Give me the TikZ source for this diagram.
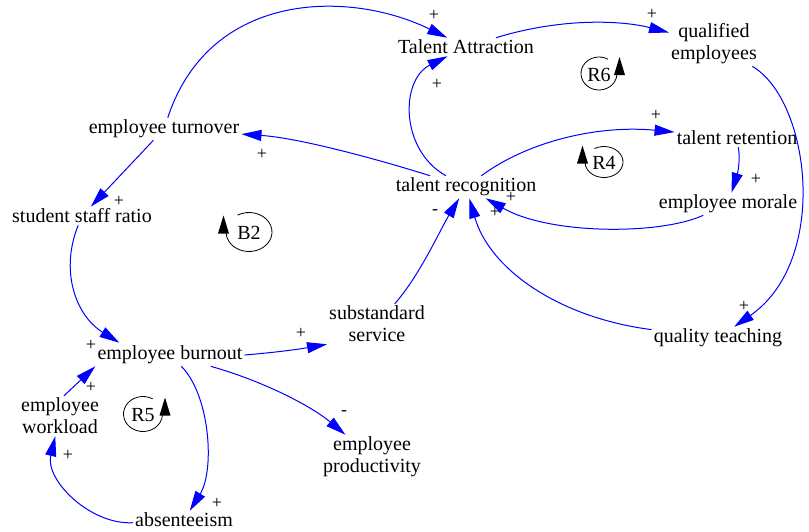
\documentclass[tikz,border=0pt]{standalone}
\usepackage{fontspec}
\setmainfont{Liberation Serif}
\usetikzlibrary{arrows.meta}
\def\lrx{19}
\def\lry{17}
\tikzset{
  loop rx/.store in=\lrx,
  loop ry/.store in=\lry,
  looptext/.style={font=\fontsize{20}{22}\selectfont, inner sep=0pt},
  loopccw/.pic={
    \draw[line width=0.8pt] ({\lrx*cos(60)},{\lry*sin(60)}) arc[start angle=60, end angle=360, x radius=\lrx, y radius=\lry];
    \fill ({\lrx+2.5-5.5},-1.5) -- ({\lrx+2.5+5.5},-1.5) -- ({\lrx+2.5},16.5) -- cycle;
    \node[looptext] at (0,-1) {#1};
  },
  loopcw/.pic={
    \draw[line width=0.8pt] ({\lrx*cos(120)},{\lry*sin(120)}) arc[start angle=120, end angle=-180, x radius=\lrx, y radius=\lry];
    \fill ({-\lrx-2.5-5.5},-1.5) -- ({-\lrx-2.5+5.5},-1.5) -- ({-\lrx-2.5},16.5) -- cycle;
    \node[looptext] at (0,-1) {#1};
  }
}
\begin{document}
\begin{tikzpicture}[x=1pt,y=1pt,
  var/.style={font=\fontsize{20}{22}\selectfont, inner sep=2pt, align=center},
  link/.style={color=blue, line width=1pt, -{Triangle[length=20pt,width=11pt]}},
  sign/.style={font=\fontsize{18}{18}\selectfont, inner sep=0pt}
]
\useasboundingbox (0,0) rectangle (809,-531);

% variables
\node[var] (ta)  at (466,-47)  {Talent Attraction};
\node[var] (qe)  at (714,-44)  {qualified\\employees};
\node[var] (et)  at (164,-129) {employee turnover};
\node[var] (trc) at (466,-187) {talent recognition};
\node[var] (trt) at (737,-138) {talent retention};
\node[var] (em)  at (728,-204) {employee morale};
\node[var] (ssr) at (82,-216)  {student staff ratio};
\node[var] (ss)  at (377,-324) {substandard\\service};
\node[var] (qt)  at (718,-338) {quality teaching};
\node[var] (eb)  at (170,-355) {employee burnout};
\node[var] (ew)  at (60,-416)  {employee\\workload};
\node[var] (ep)  at (372,-457) {employee\\productivity};
\node[var] (ab)  at (184,-520) {absenteeism};

% causal links
\draw[link] (et) .. controls (210,10) and (350,10) .. (ta);
\draw[link] (trc) .. controls (400,-150) and (400,-80) .. (ta);
\draw[link] (ta) .. controls (560,-18) and (620,-20) .. (qe);
\draw[link] (qe) .. controls (810,-100) and (830,-260) .. (qt);
\draw[link] (qt) .. controls (560,-318) and (490,-270) .. (trc);
\draw[link] (trc) .. controls (530,-140) and (600,-125) .. (trt);
\draw[link] (trt) .. controls (741,-165) and (736,-178) .. (em);
\draw[link] (em) .. controls (660,-235) and (550,-235) .. (trc);
\draw[link] (trc) .. controls (380,-160) and (300,-138) .. (et);
\draw[link] (et) -- (ssr);
\draw[link] (ssr) .. controls (60,-270) and (75,-315) .. ([xshift=24pt,yshift=1pt]eb.north west);
\draw[link] ([xshift=4pt]ew.north) -- (eb.south west);
\draw[link] (ab) .. controls (90,-525) and (45,-480) .. (ew);
\draw[link] (eb) .. controls (210,-395) and (215,-470) .. (ab);
\draw[link] (eb.east) .. controls (280,-352) and (300,-349) .. (ss.south west);
\draw[link] (eb) .. controls (260,-380) and (310,-405) .. (ep);
\draw[link] (ss) .. controls (420,-275) and (440,-230) .. (trc);

% polarities
\node[sign] (s1)  at (434,-15)  {+};
\node[sign] (s2)  at (437,-84)  {+};
\node[sign] (s3)  at (652,-14)  {+};
\node[sign] (s4)  at (744,-306) {+};
\node[sign] (s5)  at (495,-212) {+};
\node[sign] (s6)  at (511,-197) {+};
\node[sign] (s7)  at (435,-212) {-};
\node[sign] (s8)  at (656,-115) {+};
\node[sign] (s9)  at (756,-179) {+};
\node[sign] (s10) at (262,-154) {+};
\node[sign] (s11) at (119,-201) {+};
\node[sign] (s12) at (91,-345)  {+};
\node[sign] (s13) at (91,-387)  {+};
\node[sign] (s14) at (68,-455)  {+};
\node[sign] (s15) at (217,-503) {+};
\node[sign] (s16) at (301,-333) {+};
\node[sign] (s17) at (344,-413) {-};

% loop identifiers
\pic[loop rx=18, loop ry=16.5] at (599,-73.5) {loopccw=R6};
\pic[loop rx=19, loop ry=15.5] at (604,-162) {loopcw=R4};
\pic[loop rx=23, loop ry=19.5] at (249,-232) {loopcw=B2};
\pic[loop rx=19.5, loop ry=17.5] at (143,-414) {loopccw=R5};
\end{tikzpicture}
\end{document}
